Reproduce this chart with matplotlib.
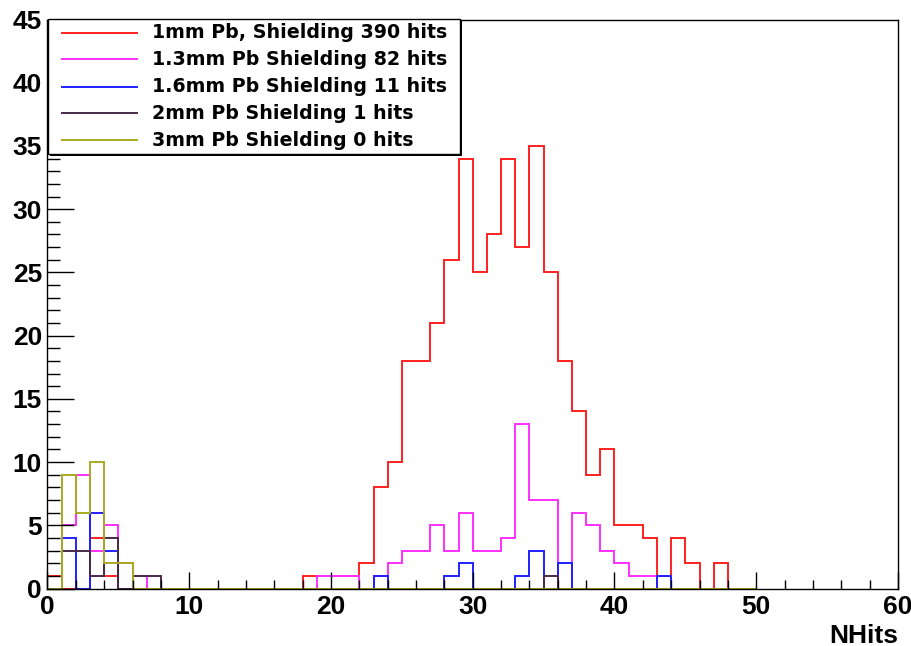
import numpy as np
import matplotlib
matplotlib.use("Agg")
import matplotlib.pyplot as plt
from matplotlib.patches import Rectangle
from matplotlib.lines import Line2D

plt.rcParams['font.family'] = ['Liberation Sans', 'DejaVu Sans']
plt.rcParams['font.weight'] = 'bold'

# bin edges 0..50, one bin per NHits value
edges = np.arange(0, 51)

def hist(entries):
    v = np.zeros(50)
    for b, c in entries.items():
        v[b] = c
    return v

red_counts = {0: 1, 3: 4, 4: 1, 18: 1, 19: 1, 20: 1, 21: 1, 22: 2, 23: 8, 24: 10,
              25: 18, 26: 18, 27: 21, 28: 26, 29: 34, 30: 25, 31: 28, 32: 34,
              33: 27, 34: 35, 35: 25, 36: 18, 37: 14, 38: 9, 39: 11, 40: 5,
              41: 5, 42: 4, 44: 4, 45: 2, 47: 2}
magenta_counts = {1: 5, 2: 9, 3: 3, 4: 5, 5: 2, 6: 1, 19: 1, 20: 1, 21: 1, 23: 1,
                  24: 2, 25: 3, 26: 3, 27: 5, 28: 3, 29: 6, 30: 3, 31: 3, 32: 4,
                  33: 13, 34: 7, 35: 7, 37: 6, 38: 5, 39: 3, 40: 2, 41: 1,
                  42: 1, 43: 1}
blue_counts = {1: 4, 3: 6, 4: 3, 23: 1, 28: 1, 29: 2, 33: 1, 34: 3, 36: 2, 43: 1}
purple_counts = {1: 3, 2: 3, 3: 1, 4: 4, 6: 1, 7: 1, 35: 1}
olive_counts = {1: 9, 2: 6, 3: 10, 4: 2, 5: 2}

labels = ["1mm Pb, Shielding 390 hits", "1.3mm Pb Shielding 82 hits",
          "1.6mm Pb Shielding 11 hits", "2mm Pb Shielding 1 hits",
          "3mm Pb Shielding 0 hits"]
colors = ["#ff2020", "#ff30ff", "#2020ff", "#4a2a48", "#aaaa22"]
series = [red_counts, magenta_counts, blue_counts, purple_counts, olive_counts]

fig = plt.figure(figsize=(9.12, 6.46), dpi=100)
ax = fig.add_axes([47.5/912, 1-588.5/646, (898-47.5)/912, (588.5-19.5)/646])

for d, c in zip(series, colors):
    ax.stairs(hist(d), edges, color=c, lw=1.4, baseline=0)

ax.set_xlim(0, 60)
ax.set_ylim(0, 45)
ax.set_xticks(np.arange(0, 61, 10))
ax.set_xticks(np.arange(0, 61, 2), minor=True)
ax.set_yticks(np.arange(0, 46, 5))
ax.set_yticks(np.arange(0, 46, 1), minor=True)
ax.tick_params(axis='x', which='major', direction='in', length=12, width=1, labelsize=19, pad=4.5)
ax.tick_params(axis='x', which='minor', direction='in', length=6.5, width=1)
ax.tick_params(axis='y', which='major', direction='in', length=19.5, width=1, labelsize=19, pad=4)
ax.tick_params(axis='y', which='minor', direction='in', length=9.5, width=1)
ax.tick_params(top=False, right=False, which='both')
for s in ax.spines.values():
    s.set_linewidth(1)

ax.set_xlabel("NHits", fontsize=19, fontweight='bold', ha='right')
ax.xaxis.set_label_coords(1.0, -0.062)

# legend box drawn like the ROOT one
tf = fig.transFigure
x0, x1 = 48/912, 460/912
y0, y1 = 1-154/646, 1-19/646
fig.patches.append(Rectangle((x0+2/912, y0-2/646), x1-x0, y1-y0, transform=tf,
                             facecolor='black', edgecolor='black', lw=0, zorder=9))
fig.patches.append(Rectangle((x0, y0), x1-x0, y1-y0, transform=tf,
                             facecolor='white', edgecolor='black', lw=1, zorder=10))
rows = [32.7, 59.3, 86.7, 113.3, 140]
for r, lab, c in zip(rows, labels, colors):
    yy = 1 - r/646
    fig.add_artist(Line2D([62/912, 137/912], [yy, yy], transform=tf, color=c, lw=1.4, zorder=11))
    fig.text(152/912, yy, lab, fontsize=13.7, fontweight='bold', family='DejaVu Sans',
             va='center', ha='left', zorder=12)

fig.savefig("out.png", dpi=100)
